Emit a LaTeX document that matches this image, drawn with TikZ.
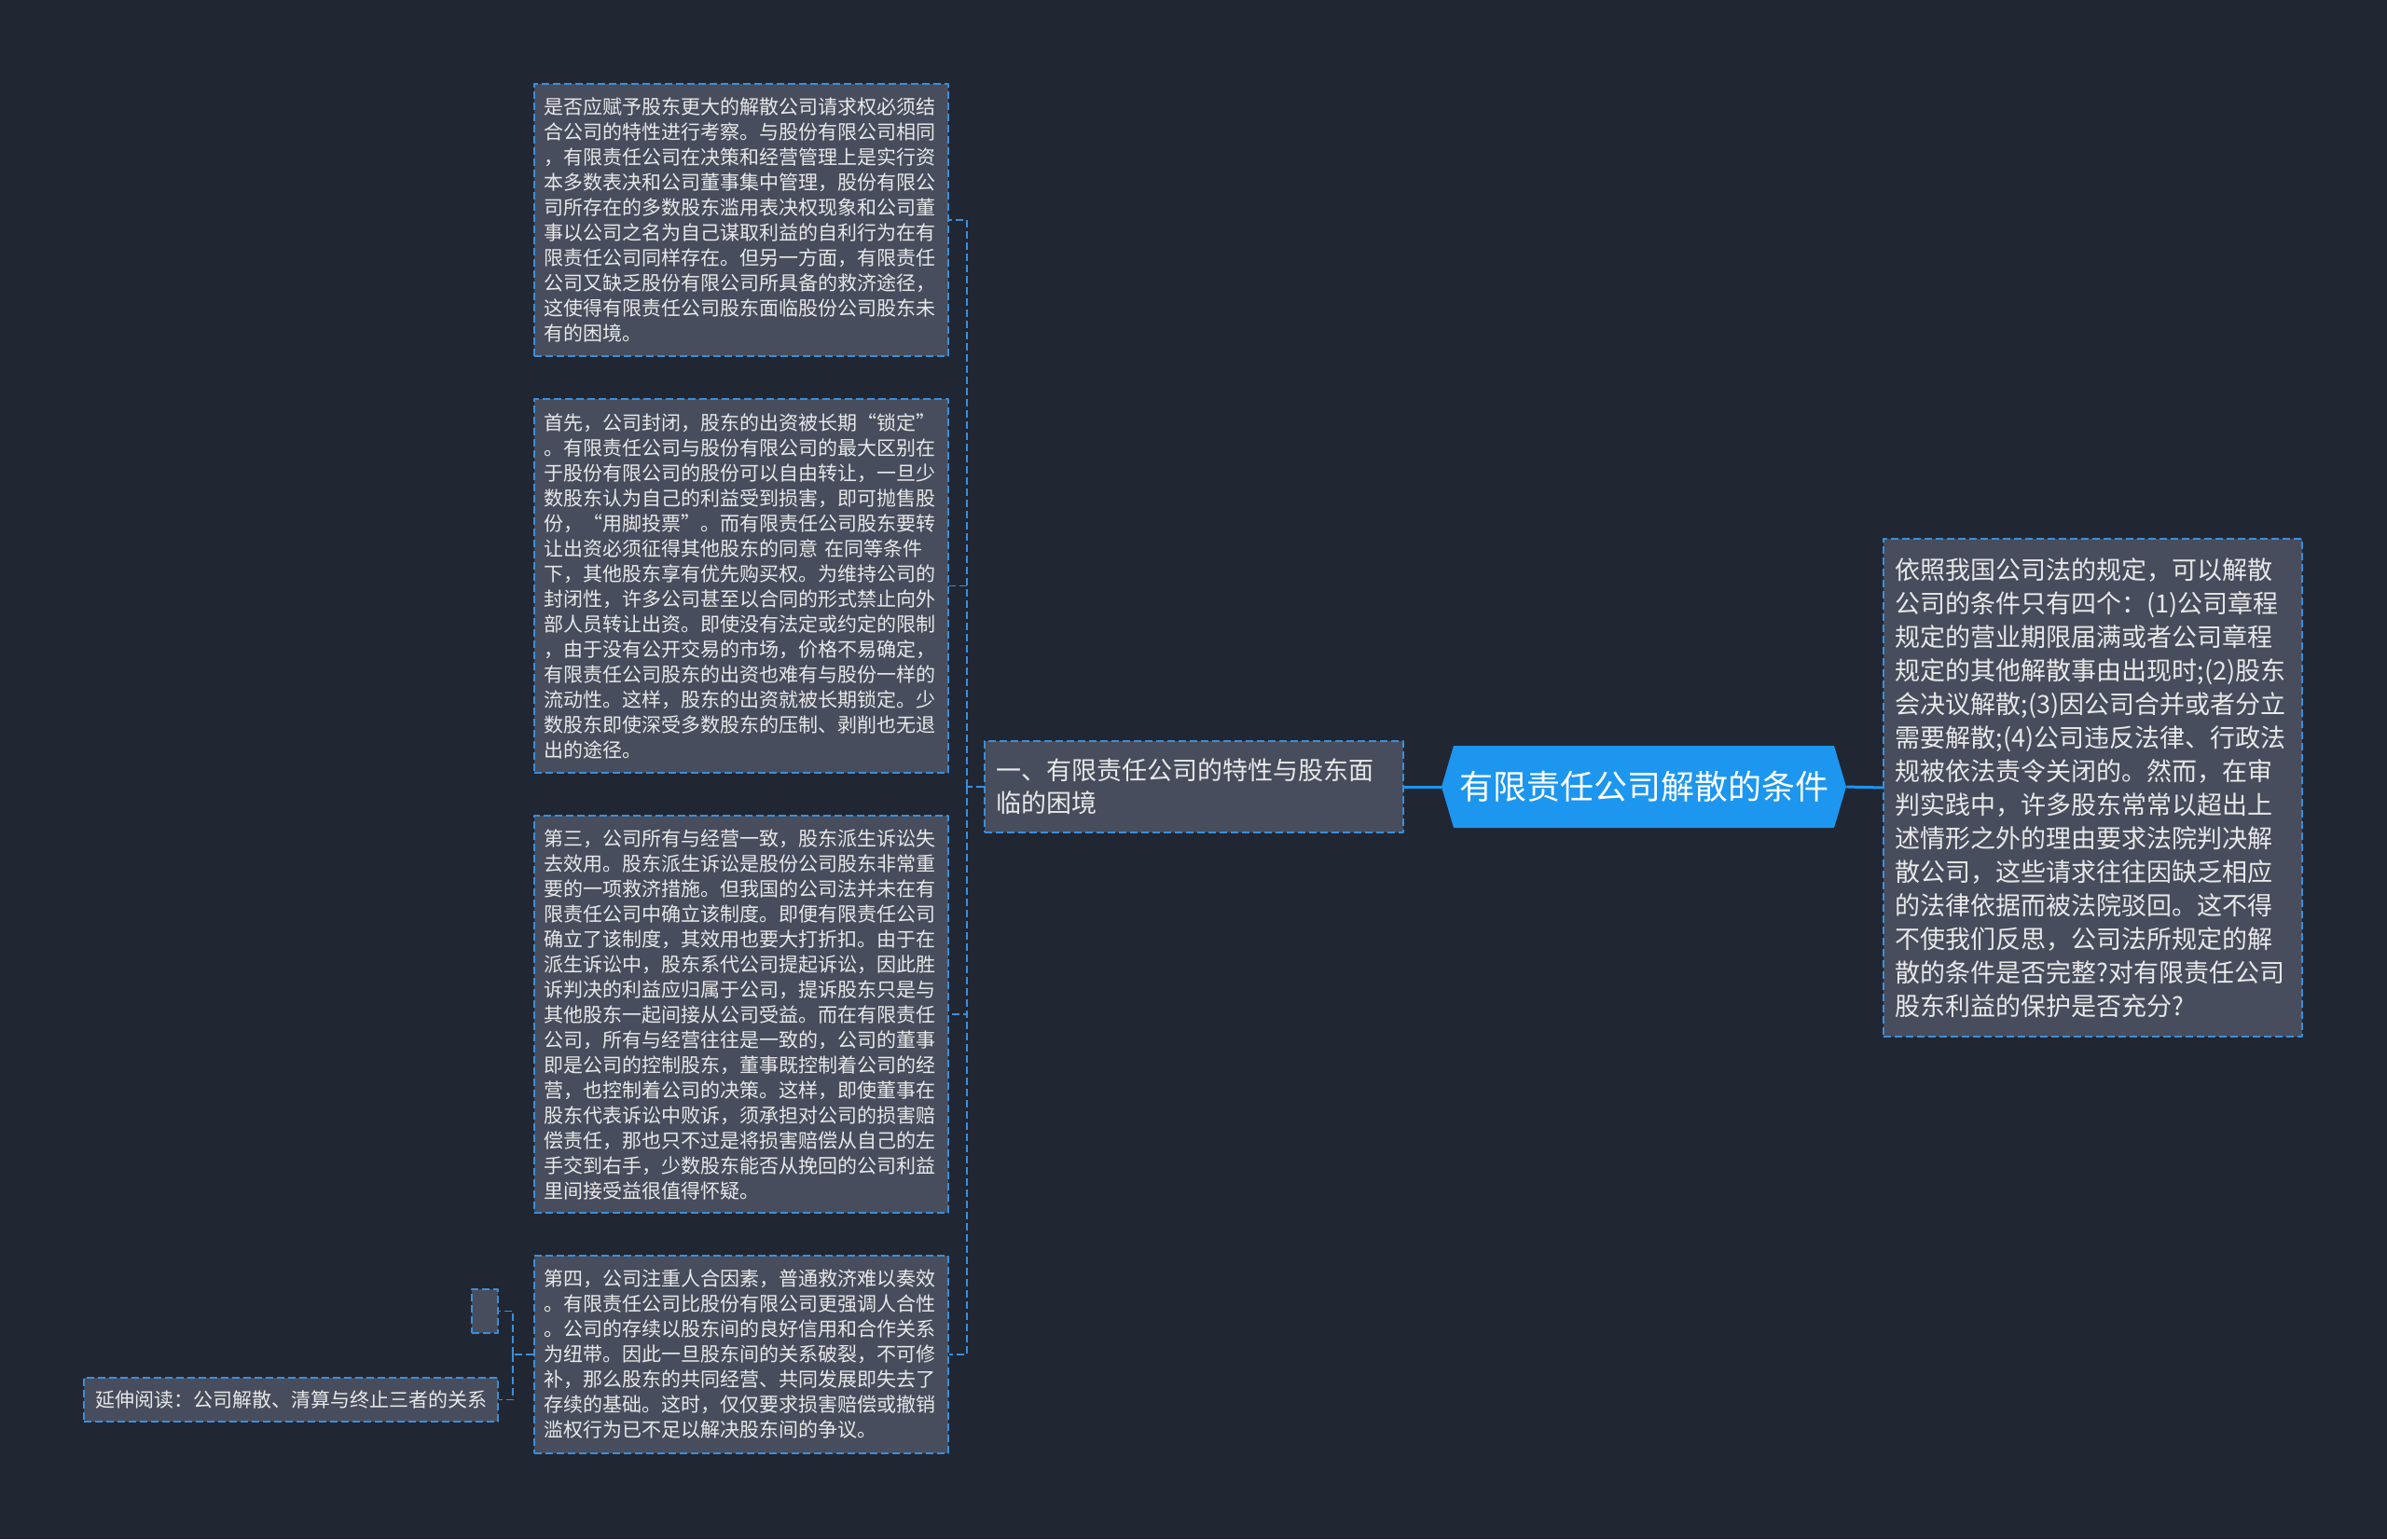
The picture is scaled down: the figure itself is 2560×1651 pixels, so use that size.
\documentclass[tikz,border=0pt]{standalone}
\usepackage{fontspec}
\setmainfont{Noto Sans CJK SC}
\definecolor{mapbg}{HTML}{212633}
\definecolor{cardfill}{HTML}{474D5C}
\definecolor{cardedge}{HTML}{3A8FDB}
\definecolor{rootblue}{HTML}{1C96EE}
\definecolor{cardtext}{HTML}{E8E8E8}

\begin{document}
\begin{tikzpicture}[
  x=0.5pt,
  y=-0.5pt,
  line join=round,
  card/.style={draw=cardedge,fill=cardfill,line width=0.9pt,dash pattern=on 4pt off 2pt,
    text=cardtext,align=left,inner sep=0pt},
  smallcard/.style={card,font=\fontsize{10.5pt}{13.5pt}\selectfont,text width=212pt,minimum width=222pt},
  bigcard/.style={card,font=\fontsize{13.5pt}{17.5pt}\selectfont,text width=212pt,minimum width=224.5pt},
  link/.style={draw=cardedge,line width=0.9pt,dash pattern=on 4pt off 2pt},
  rootlink/.style={draw=rootblue,line width=1.5pt}
]
  % Match the artwork frame (2560 x 1651 px).
  \useasboundingbox (0,0) rectangle (2560,1651);
  \fill[mapbg] (0,0) rectangle (2560,1651);

  % Central topic, a blue hexagon with pointed ends.
  \fill[rootblue] (1559,800) -- (1967,800) -- (1980,844) -- (1967,888)
    -- (1559,888) -- (1546,844) -- cycle;
  \node[text=white,font=\fontsize{18pt}{20pt}\selectfont,minimum width=217pt,minimum height=44pt,inner sep=0pt]
    (root) at (1763,844) {有限责任公司解散的条件};

  % Right branch.
  \node[bigcard,font=\fontsize{13.5pt}{18pt}\selectfont,minimum height=267pt] (detail) at (2244.5,845) {依照我国公司法的规定，可以解散\\公司的条件只有四个：(1)公司章程\\规定的营业期限届满或者公司章程\\规定的其他解散事由出现时;(2)股东\\会决议解散;(3)因公司合并或者分立\\需要解散;(4)公司违反法律、行政法\\规被依法责令关闭的。然而，在审\\判实践中，许多股东常常以超出上\\述情形之外的理由要求法院判决解\\散公司，这些请求往往因缺乏相应\\的法律依据而被法院驳回。这不得\\不使我们反思，公司法所规定的解\\散的条件是否完整?对有限责任公司\\股东利益的保护是否充分?};

  % Left branch and its four text cards.
  \node[bigcard,minimum height=49pt] (mid) at (1280.5,844) {一、有限责任公司的特性与股东面\\临的困境};

  \node[smallcard,minimum height=146pt] (b1) at (795,236) {是否应赋予股东更大的解散公司请求权必须结\\合公司的特性进行考察。与股份有限公司相同\\，有限责任公司在决策和经营管理上是实行资\\本多数表决和公司董事集中管理，股份有限公\\司所存在的多数股东滥用表决权现象和公司董\\事以公司之名为自己谋取利益的自利行为在有\\限责任公司同样存在。但另一方面，有限责任\\公司又缺乏股份有限公司所具备的救济途径，\\这使得有限责任公司股东面临股份公司股东未\\有的困境。};
  \node[smallcard,minimum height=200.5pt] (b2) at (795,628.5) {首先，公司封闭，股东的出资被长期“锁定”\\。有限责任公司与股份有限公司的最大区别在\\于股份有限公司的股份可以自由转让，一旦少\\数股东认为自己的利益受到损害，即可抛售股\\份，“用脚投票”。而有限责任公司股东要转\\让出资必须征得其他股东的同意 在同等条件\\下，其他股东享有优先购买权。为维持公司的\\封闭性，许多公司甚至以合同的形式禁止向外\\部人员转让出资。即使没有法定或约定的限制\\，由于没有公开交易的市场，价格不易确定，\\有限责任公司股东的出资也难有与股份一样的\\流动性。这样，股东的出资就被长期锁定。少\\数股东即使深受多数股东的压制、剥削也无退\\出的途径。};
  \node[smallcard,minimum height=213pt] (b3) at (795,1088) {第三，公司所有与经营一致，股东派生诉讼失\\去效用。股东派生诉讼是股份公司股东非常重\\要的一项救济措施。但我国的公司法并未在有\\限责任公司中确立该制度。即便有限责任公司\\确立了该制度，其效用也要大打折扣。由于在\\派生诉讼中，股东系代公司提起诉讼，因此胜\\诉判决的利益应归属于公司，提诉股东只是与\\其他股东一起间接从公司受益。而在有限责任\\公司，所有与经营往往是一致的，公司的董事\\即是公司的控制股东，董事既控制着公司的经\\营，也控制着公司的决策。这样，即使董事在\\股东代表诉讼中败诉，须承担对公司的损害赔\\偿责任，那也只不过是将损害赔偿从自己的左\\手交到右手，少数股东能否从挽回的公司利益\\里间接受益很值得怀疑。};
  \node[smallcard,minimum height=106pt] (b4) at (795,1453) {第四，公司注重人合因素，普通救济难以奏效\\。有限责任公司比股份有限公司更强调人合性\\。公司的存续以股东间的良好信用和合作关系\\为纽带。因此一旦股东间的关系破裂，不可修\\补，那么股东的共同经营、共同发展即失去了\\存续的基础。这时，仅仅要求损害赔偿或撤销\\滥权行为已不足以解决股东间的争议。};

  % Leaves hanging off the fourth card.
  \node[card,minimum width=14pt,minimum height=23.5pt] (blank) at (520,1406.5) {};
  \node[card,font=\fontsize{10.5pt}{13.5pt}\selectfont,minimum width=222pt,minimum height=23.5pt]
    (more) at (312,1501.5) {延伸阅读：公司解散、清算与终止三者的关系};

  % Connectors.
  \draw[rootlink] (root.east) -- (detail.west);
  \draw[rootlink] (root.west) -- (mid.east);

  \coordinate (fork) at (1037,844);
  \draw[link] (mid.west) -- (fork);
  \foreach \b in {b1,b2,b3,b4} {
    \draw[link] (fork) |- (\b.east);
  }

  \coordinate (forkb) at (550,1453);
  \draw[link] (b4.west) -- (forkb);
  \foreach \b in {blank,more} {
    \draw[link] (forkb) |- (\b.east);
  }
\end{tikzpicture}
\end{document}
